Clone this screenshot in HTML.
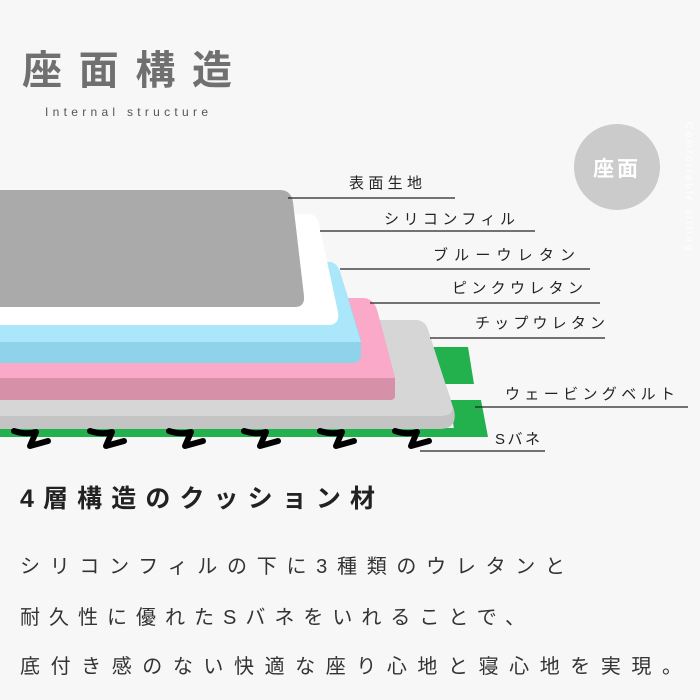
<!DOCTYPE html>
<html><head><meta charset="utf-8"><style>
html,body{margin:0;padding:0;background:#f7f7f7}
svg{display:block}
text{font-family:"Liberation Sans","Noto Sans CJK JP",sans-serif}
</style></head><body>
<svg width="700" height="700" viewBox="0 0 700 700" xmlns="http://www.w3.org/2000/svg">
<rect width="700" height="700" fill="#f7f7f7"/>
<text x="22" y="84" font-size="40" font-weight="bold" fill="#707070" textLength="210" lengthAdjust="spacing">座面構造</text>
<text x="45" y="116" font-size="12" fill="#555" textLength="163" lengthAdjust="spacing">Internal structure</text>
<circle cx="617" cy="167" r="43" fill="#cbcbcb"/>
<text x="617" y="176" font-size="21" fill="#fff" text-anchor="middle" font-weight="bold" letter-spacing="3">座面</text>
<text x="0" y="0" font-size="10" fill="#fff" transform="translate(686,122) rotate(90)" letter-spacing="2.5">Comfortable sitting</text>

<polygon points="433,347 468,347 474,384 440,384" fill="#22b14c"/>
<polygon points="450,400 481,400 488,437 455,437" fill="#22b14c"/>
<rect x="0" y="428" width="470" height="9" fill="#22b14c"/>
<path d="M0,320 H415 Q425,320 428,330 L454,410 Q458,429 440,429 H0 Z" fill="#c4c4c4"/>
<path d="M0,320 H415 Q425,320 428,330 L452,405 Q455,416 440,416 H0 Z" fill="#d6d6d6"/>
<path d="M0,298 H362 Q373,298 377,310 L395,378 V396 Q395,400 390,400 H0 Z" fill="#d690a8"/>
<path d="M0,298 H362 Q373,298 377,310 L395,378 H0 Z" fill="#fba9c8"/>
<path d="M0,262 H328 Q337,262 340,272 L361,340 V355 Q361,363 352,363 H0 Z" fill="#8ed3ea"/>
<path d="M0,262 H328 Q337,262 340,272 L361,342 H0 Z" fill="#aae7fb"/>
<path d="M0,214 H308 Q317,214 319,224 L338,312 Q340,325 328,325 H0 Z" fill="#ffffff"/>
<path d="M0,190 H280 Q291,190 293,202 L304,296 Q305,307 295,307 H0 Z" fill="#aaaaaa"/>
<g fill="none" stroke="#000" stroke-width="6" stroke-linecap="round" stroke-linejoin="round">
<path d="M14,431 Q26,435 36,432 L30,446 L48,441"/>
<path d="M90,431 Q102,435 112,432 L106,446 L124,441"/>
<path d="M169,431 Q181,435 191,432 L185,446 L203,441"/>
<path d="M244,431 Q256,435 266,432 L260,446 L278,441"/>
<path d="M320,431 Q332,435 342,432 L336,446 L354,441"/>
<path d="M395,431 Q407,435 417,432 L411,446 L429,441"/>
</g>
<g stroke="#222" stroke-width="1.3">
<line x1="288" y1="198" x2="455" y2="198"/>
<line x1="320" y1="231" x2="535" y2="231"/>
<line x1="340" y1="269" x2="590" y2="269"/>
<line x1="370" y1="303" x2="600" y2="303"/>
<line x1="430" y1="338" x2="605" y2="338"/>
<line x1="475" y1="407" x2="688" y2="407"/>
<line x1="420" y1="451" x2="545" y2="451"/>
</g>
<g font-size="15" fill="#222">
<text x="349" y="188" textLength="73" lengthAdjust="spacing">表面生地</text>
<text x="384" y="224" textLength="131" lengthAdjust="spacing">シリコンフィル</text>
<text x="433" y="260" textLength="142" lengthAdjust="spacing">ブルーウレタン</text>
<text x="452" y="293" textLength="131" lengthAdjust="spacing">ピンクウレタン</text>
<text x="475" y="328" textLength="130" lengthAdjust="spacing">チップウレタン</text>
<text x="505" y="399" textLength="170" lengthAdjust="spacing">ウェービングベルト</text>
<text x="495" y="444" textLength="45" lengthAdjust="spacing">Sバネ</text>
</g>
<text x="20" y="507" font-size="25" font-weight="bold" fill="#222" textLength="355" lengthAdjust="spacing">4層構造のクッション材</text>
<g font-size="20" fill="#333">
<text x="20" y="573" textLength="545" lengthAdjust="spacing">シリコンフィルの下に3種類のウレタンと</text>
<text x="20" y="624" textLength="505" lengthAdjust="spacing">耐久性に優れたSバネをいれることで、</text>
<text x="20" y="673" textLength="662" lengthAdjust="spacing">底付き感のない快適な座り心地と寝心地を実現。</text>
</g>
</svg>
</body></html>
